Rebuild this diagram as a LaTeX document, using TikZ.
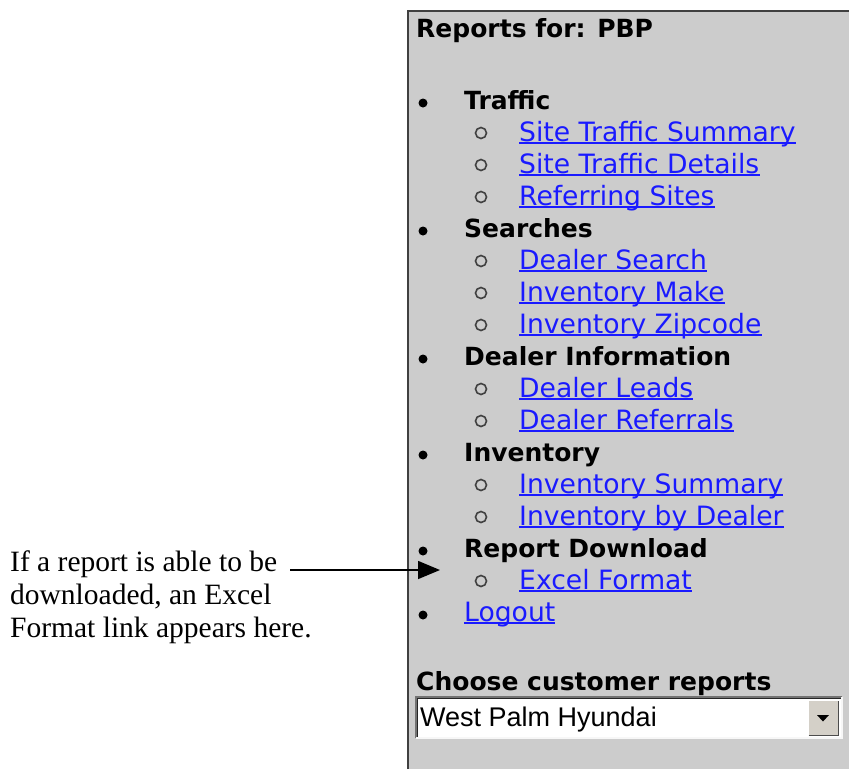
\documentclass[tikz,border=0pt]{standalone}
\usepackage{fontspec}
\setmainfont{Liberation Serif}
\newfontfamily\vf{DejaVu Sans}
\newfontfamily\af{Liberation Sans}
\usetikzlibrary{arrows.meta}
\definecolor{panel}{HTML}{CCCCCC}
\definecolor{linkblue}{HTML}{1A1AFF}
\definecolor{btn}{HTML}{D4D0C8}
\newcommand\headitem[3]{%
  \node[dotb] (#1d) at (423,#3-6) {};
  \node[hd] (#1) at (464,#3) {#2};}
\newcommand\linkitem[3]{%
  \node[ring] (#1r) at (481,#3-8) {};
  \node[lnk] (#1) at (519,#3) {#2};
  \draw[uline] ([yshift=-2pt]#1.base west) -- ([yshift=-2pt]#1.base east);}
\begin{document}
\begin{tikzpicture}[x=1pt,y=-1pt,
  hd/.style={anchor=base west,inner sep=0pt,font=\vf\bfseries\fontsize{25}{30}\selectfont},
  lnk/.style={anchor=base west,inner sep=0pt,text=linkblue,font=\vf\fontsize{26.6}{30}\selectfont},
  dotb/.style={circle,fill=black,inner sep=0pt,minimum size=9pt},
  ring/.style={circle,draw=black!75,line width=1.6pt,inner sep=0pt,minimum size=11pt},
  uline/.style={linkblue,line width=1.5pt},
  notetext/.style={anchor=base west,inner sep=0pt,font=\fontsize{29.5}{33}\selectfont}]
\useasboundingbox (0,0) rectangle (849,769);
% panel
\fill[panel] (408,11) rectangle (849,769);
\draw[line width=2pt,black!75] (408,769) -- (408,11) -- (849,11);
\node[hd] (title) at (416,37) {Reports for: PBP};
\headitem{traffic}{Traffic}{109}
\linkitem{sts}{Site Traffic Summary}{141}
\linkitem{std}{Site Traffic Details}{173}
\linkitem{rs}{Referring Sites}{205}
\headitem{searches}{Searches}{237}
\linkitem{ds}{Dealer Search}{269}
\linkitem{im}{Inventory Make}{301}
\linkitem{iz}{Inventory Zipcode}{333}
\headitem{dinfo}{Dealer Information}{365}
\linkitem{dl}{Dealer Leads}{397}
\linkitem{dr}{Dealer Referrals}{429}
\headitem{inv}{Inventory}{461}
\linkitem{is}{Inventory Summary}{493}
\linkitem{ibd}{Inventory by Dealer}{525}
\headitem{rd}{Report Download}{557}
\linkitem{ef}{Excel Format}{589}
\node[dotb] (logoutd) at (423,615) {};
\node[lnk] (logout) at (464,621) {Logout};
\draw[uline] ([yshift=-2pt]logout.base west) -- ([yshift=-2pt]logout.base east);
\node[hd] (choose) at (416,690) {Choose customer reports};
% dropdown
\fill[white] (417,698) rectangle (841,737);
\draw[line width=1.5pt,black!55] (416,738) -- (416,697) -- (842,697);
\draw[line width=1pt,black!85] (417.5,737) -- (417.5,698.5) -- (841,698.5);
\draw[line width=1.5pt,white!85!panel] (416,738) -- (842,738) -- (842,697);
\fill[btn] (808,700) rectangle (839,736);
\draw[white,line width=1pt] (808.5,735.5) -- (808.5,700.5) -- (838.5,700.5);
\draw[black!70,line width=1pt] (808.5,735.5) -- (838.5,735.5) -- (838.5,700.5);
\fill[black] (817,715) -- (829,715) -- (823,721.5) -- cycle;
\node[anchor=base west,inner sep=0pt,font=\af\fontsize{27}{30}\selectfont] (cust) at (420,726) {West Palm Hyundai};
% annotation
\node[notetext] (note1) at (10,571) {If a report is able to be};
\node[notetext] (note2) at (10,604) {downloaded, an Excel};
\node[notetext] (note3) at (10,637) {Format link appears here.};
\coordinate (from) at (290,570);
\coordinate (tip) at (440,570);
\draw[line width=1.5pt,-{Triangle[length=22pt,width=18pt]}] (from) -- (tip);
\end{tikzpicture}
\end{document}
